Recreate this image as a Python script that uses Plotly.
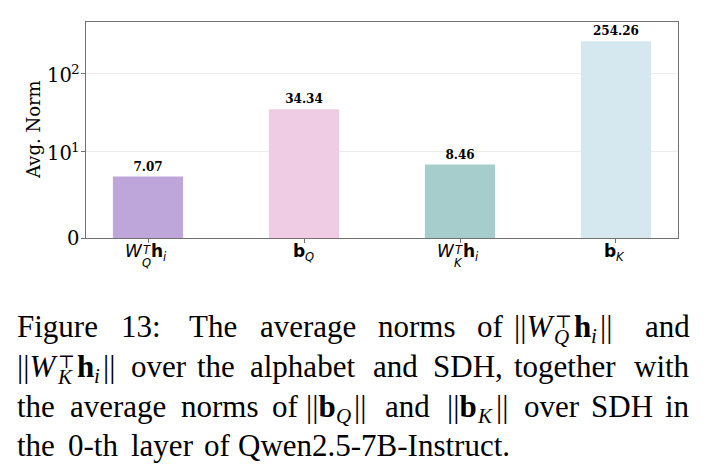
import math
import plotly.graph_objects as go

# ---------------- data ----------------
categories = ["W_Q^T h_i", "b_Q", "W_K^T h_i", "b_K"]
values = [7.07, 34.34, 8.46, 254.26]
bar_colors = ["#bea6db", "#f0cbe4", "#a6cccc", "#d5e8f0"]
y_tick_values = [0, 10, 100]
y_tick_bases = ["0", "10", "10"]
y_tick_exponents = ["", "1", "2"]
y_top_value = 450

# symlog transform (matplotlib style, base 10, linthresh 10, linscale 1)
LINTHRESH = 10.0
LINSCALE_ADJ = 1.0 / (1.0 - 1.0 / 10.0)


def symlog(v):
    if abs(v) <= LINTHRESH:
        return v * LINSCALE_ADJ
    return math.copysign(LINTHRESH * (LINSCALE_ADJ + math.log10(abs(v) / LINTHRESH)), v)


# ---------------- geometry ----------------
W, H = 705, 476
ML, MR, MT, MB = 86, 27, 22, 238
PW, PH = W - ML - MR, H - MT - MB
BAR_W = 0.45
x_idx = list(range(len(categories)))
x_lo, x_hi = -BAR_W / 2, len(categories) - 1 + BAR_W / 2
pad = 0.05 * (x_hi - x_lo)


def px_x(px):
    return (px - ML) / PW


def px_y(py):
    return (MT + PH - py) / PH


FRAME = "#727272"
SERIF = "DejaVu Serif"
SANS = "DejaVu Sans"

fig = go.Figure()
fig.add_trace(go.Bar(
    x=x_idx,
    y=[symlog(v) for v in values],
    width=BAR_W,
    marker=dict(color=bar_colors, line=dict(width=0)),
    text=[f"{v:.2f}" for v in values],
    texttemplate="<b>%{text}</b>",
    textposition="outside",
    textfont=dict(family=SERIF, size=12, color="black"),
    cliponaxis=False,
    hoverinfo="skip",
))

annotations = []


def add_text(x_px, baseline, html, size, family, xref_data=None, anchor="left", asc=0.93):
    top = baseline - asc * size
    ann = dict(
        text=html, showarrow=False, xanchor=anchor, yanchor="top",
        yref="paper", y=px_y(top),
        font=dict(family=family, size=size, color="black"),
        borderpad=0, borderwidth=0,
    )
    if xref_data is not None:
        ann.update(xref="x", x=xref_data, xshift=x_px)
    else:
        ann.update(xref="paper", x=px_x(x_px))
    annotations.append(ann)


# ---- y tick labels (placed on the y scale, baseline-aligned) ----
YT_SIZE = 19.5
YE_SIZE = 13.5
DESC = 0.236
for v, base, ex in zip(y_tick_values, y_tick_bases, y_tick_exponents):
    if ex:
        below = 9.2  # baseline offset below the tick
        annotations.append(dict(
            text=base, showarrow=False, xref="paper", x=px_x(71.5), xanchor="right",
            yref="y", y=symlog(v), yanchor="bottom", yshift=-(below + DESC * YT_SIZE),
            font=dict(family=SERIF, size=YT_SIZE, color="black"), borderpad=0, borderwidth=0,
        ))
        annotations.append(dict(
            text=ex, showarrow=False, xref="paper", x=px_x(71), xanchor="left",
            yref="y", y=symlog(v), yanchor="bottom", yshift=-(below - 8.8 + DESC * YE_SIZE),
            font=dict(family=SERIF, size=YE_SIZE, color="black"), borderpad=0, borderwidth=0,
        ))
    else:
        below = 7.1
        annotations.append(dict(
            text=base, showarrow=False, xref="paper", x=px_x(78.5), xanchor="right",
            yref="y", y=symlog(v), yanchor="bottom", yshift=-(below + DESC * YT_SIZE),
            font=dict(family=SERIF, size=YT_SIZE, color="black"), borderpad=0, borderwidth=0,
        ))

# ---- x tick labels (math style) ----
TL_BASE = 257
TS = 17
SS = 11.5
for i, cat in enumerate(categories):
    if cat.startswith("W"):
        sub = "Q" if "Q" in cat else "K"
        add_text(-23, TL_BASE, "<i>W</i>", TS, SANS, xref_data=i)
        add_text(-5.5, TL_BASE - 3, "<i>T</i>", SS, SANS, xref_data=i)
        add_text(-6, TL_BASE + 10, f"<i>{sub}</i>", SS, SANS, xref_data=i)
        add_text(3, TL_BASE, "<b>h</b>", TS, SANS, xref_data=i)
        add_text(14.5, TL_BASE + 4, "<i>i</i>", SS, SANS, xref_data=i)
    else:
        sub = cat[-1]
        add_text(-11.5, TL_BASE, "<b>b</b>", TS, SANS, xref_data=i)
        add_text(0.5, TL_BASE + 4, f"<i>{sub}</i>", SS, SANS, xref_data=i)

# ---- y axis title ----
annotations.append(dict(
    text="Avg. Norm", showarrow=False, xref="paper", yref="paper",
    x=px_x(33), y=0.5, xanchor="center", yanchor="middle", textangle=-90,
    font=dict(family=SERIF, size=18, color="black"),
))

# ---- caption ----
CF = "Liberation Serif"
CS = 31
CA = 0.891
SUPF = "DejaVu Serif"


def cap(x, base, html, anchor="left"):
    add_text(x, base, html, CS, CF, anchor=anchor, asc=CA)


def cap_mathW(x0, base, sub):
    cap(x0, base, "||<i>W</i>")
    add_text(x0 + 41, base - 9, "\u22a4", 18, SUPF, asc=0.93)
    add_text(x0 + 40, base + 7, f"<i>{sub}</i>", 21, CF, asc=CA)
    cap(x0 + 60, base, "<b>h</b>")
    add_text(x0 + 77, base + 6, "<i>i</i>", 21, CF, asc=CA)
    cap(x0 + 86, base, "||")


def cap_mathb(x0, base, sub):
    cap(x0, base, "||<b>b</b>")
    add_text(x0 + 30, base + 6, f"<i>{sub}</i>", 21, CF, asc=CA)
    cap(x0 + 48 if sub == "Q" else x0 + 49, base, "||")


L1, L2, L3, L4 = 337, 377, 416.5, 456
for x, w in [(17, "Figure"), (120.7, "13:"), (188.5, "The"), (259.5, "average"),
             (377.6, "norms"), (476.9, "of")]:
    cap(x, L1, w)
cap_mathW(514, L1, "Q")
cap(690, L1, "and", anchor="right")

cap_mathW(17, L2, "K")
for x, w in [(131, "over"), (197.1, "the"), (249.8, "alphabet"), (373.4, "and"),
             (432.7, "SDH,"), (513.8, "together")]:
    cap(x, L2, w)
cap(690, L2, "with", anchor="right")

for x, w in [(17, "the"), (70.3, "average"), (180.5, "norms"), (271.9, "of"),
             (384.9, "and"), (523.9, "over"), (591.3, "SDH")]:
    cap(x, L3, w)
cap_mathb(306, L3, "Q")
cap_mathb(447, L3, "K")
cap(690, L3, "in", anchor="right")

for x, w in [(17, "the"), (68, "0-th"), (131, "layer"), (204, "of"), (238, "Qwen2.5-7B-Instruct.")]:
    cap(x, L4, w)

fig.update_layout(
    width=W, height=H,
    margin=dict(l=ML, r=MR, t=MT, b=MB, pad=0),
    paper_bgcolor="white", plot_bgcolor="white",
    showlegend=False,
    annotations=annotations,
    xaxis=dict(
        range=[x_lo - pad, x_hi + pad],
        tickvals=x_idx, showticklabels=False,
        ticks="outside", ticklen=4, tickcolor=FRAME, tickwidth=1,
        showline=True, linecolor=FRAME, linewidth=1, mirror=True,
        showgrid=False, zeroline=False, fixedrange=True,
    ),
    yaxis=dict(
        range=[0, symlog(y_top_value)],
        tickvals=[symlog(v) for v in y_tick_values], showticklabels=False,
        ticks="outside", ticklen=4, tickcolor=FRAME, tickwidth=1,
        showline=True, linecolor=FRAME, linewidth=1, mirror=True,
        showgrid=True, gridcolor="#ececec", gridwidth=1,
        zeroline=False, fixedrange=True,
    ),
)

fig.write_html("out.html")
